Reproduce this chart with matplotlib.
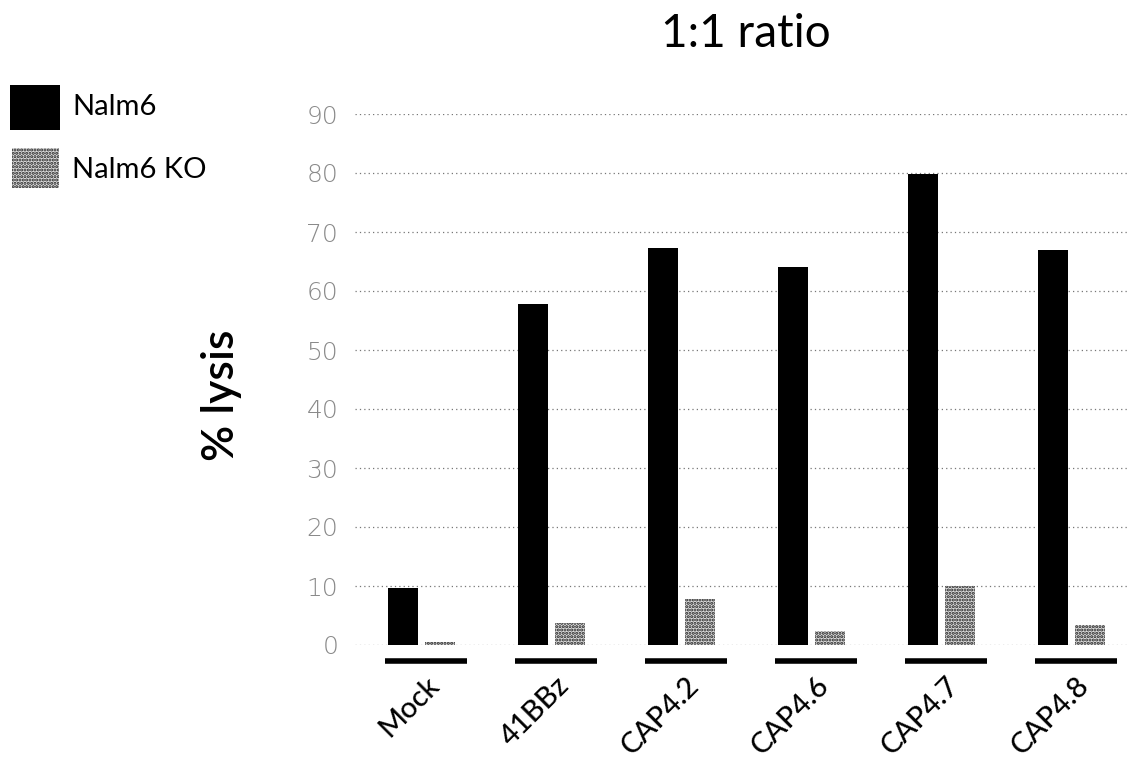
import matplotlib
matplotlib.use("Agg")
import matplotlib.pyplot as plt
import numpy as np
from matplotlib.patches import Rectangle
from matplotlib.transforms import ScaledTranslation

categories = ["Mock", "41BBz", "CAP4.2", "CAP4.6", "CAP4.7", "CAP4.8"]
nalm6 = [9.7, 57.8, 67.3, 64.1, 79.8, 67.0]
nalm6_ko = [0.5, 3.7, 7.8, 2.4, 10.0, 3.4]
y_ticks = [0, 10, 20, 30, 40, 50, 60, 70, 80, 90]
series_names = ["Nalm6", "Nalm6 KO"]

plt.rcParams["font.family"] = ["Lato", "DejaVu Sans"]
plt.rcParams["hatch.linewidth"] = 1.5

W, H = 1130, 763
fig = plt.figure(figsize=(W / 100, H / 100), dpi=100)
ax = fig.add_axes([355 / W, (H - 645) / H, (1128 - 355) / W, (645 - 114) / H])

x = np.arange(len(categories))
bw = 0.23
ax.bar(x - 0.175, nalm6, width=bw, color="black", zorder=3)
ax.bar(x + 0.105, nalm6_ko, width=bw, facecolor="#dddddd", edgecolor="#222222",
       hatch=".....", linewidth=0, zorder=3)

ax.set_xlim(-(426 - 355) / 130, (1128 - 426) / 130)
ax.set_ylim(0, 90)
ax.set_yticks(y_ticks)
ax.set_yticklabels([str(v) for v in y_ticks], color="#8a8a8a", fontsize=18,
                   family=["DejaVu Sans"], fontweight="light")
ax.tick_params(axis="y", length=0, pad=12)
ax.yaxis.grid(True, linestyle=(0, (1, 2.5)), color="#777777", linewidth=0.9, zorder=0)
for s in ax.spines.values():
    s.set_visible(False)

# category underlines below the baseline
ax.hlines([-2.75] * len(x), x - 0.315, x + 0.315, color="black", linewidth=4,
          clip_on=False)

ax.set_xticks(x)
ax.set_xticklabels(categories, rotation=45, ha="right", va="center",
                   rotation_mode="anchor", fontsize=21, fontweight="medium")
ax.tick_params(axis="x", length=0, pad=26)
shift = ScaledTranslation(9 / 100, 0, fig.dpi_scale_trans)
for lbl in ax.get_xticklabels():
    lbl.set_transform(lbl.get_transform() + shift)

fig.text(222 / W, 1 - 395 / H, "% lysis", rotation=90, ha="center", va="center",
         fontsize=32, fontweight="semibold")
fig.text(746 / W, 1 - 34 / H, "1:1 ratio", ha="center", va="center", fontsize=33)

# legend drawn in figure coordinates
fig.patches.append(Rectangle((10 / W, 1 - 130 / H), 50 / W, 45 / H, transform=fig.transFigure,
                             facecolor="black", edgecolor="none"))
fig.patches.append(Rectangle((12 / W, 1 - 188 / H), 47 / W, 40 / H, transform=fig.transFigure,
                             facecolor="#dddddd", edgecolor="#222222", hatch=".....",
                             linewidth=0))
fig.text(72 / W, 1 - 107 / H, series_names[0], fontsize=21, va="center")
fig.text(72 / W, 1 - 170 / H, series_names[1], fontsize=21, va="center")

fig.savefig("out.png", dpi=100, facecolor="white")
